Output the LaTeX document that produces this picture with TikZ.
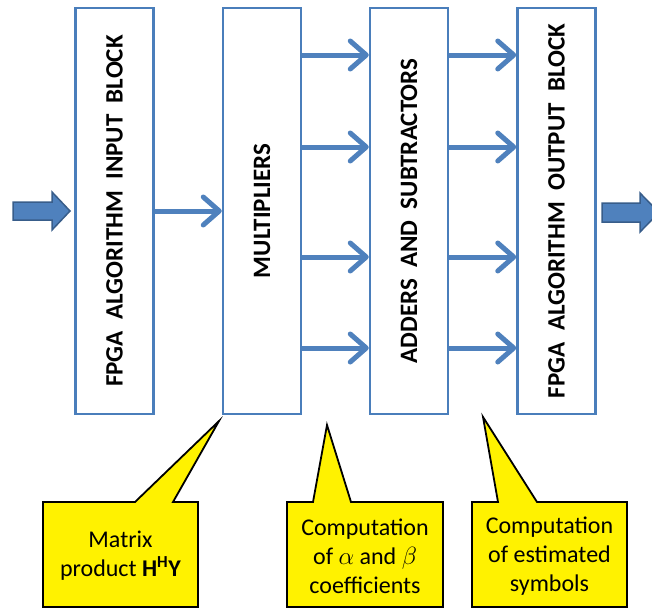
\documentclass[tikz,border=0pt]{standalone}
\usepackage{fontspec}
\setmainfont{Carlito}
\usetikzlibrary{arrows.meta}

\definecolor{boxblue}{HTML}{4A7EBB}
\definecolor{flowblue}{HTML}{4F81BD}
\definecolor{edgeblue}{HTML}{385D8A}

\tikzset{
	block/.style={draw=boxblue, line width=2.5pt, minimum width=78pt, minimum height=406pt, inner sep=0pt},
	blocktext/.style={rotate=90, font=\bfseries\fontsize{25}{28}\selectfont},
	flow/.style={draw=flowblue, line width=5pt, -{Straight Barb[length=16pt,width=28pt,round]}},
	bigarrow/.style={fill=flowblue, draw=edgeblue, line width=1.5pt, line join=miter},
	note/.style={fill=yellow, draw=black, line width=1.8pt, line join=miter},
	notetext/.style={align=center, font=\fontsize{24}{29}\selectfont}
}

\begin{document}
\begin{tikzpicture}[x=1pt, y=-1pt]
	\clip (0,0) rectangle (652,610);
	\useasboundingbox (0,0) rectangle (652,610);

	% processing blocks
	\node[block] (b1) at (114.5,211) {};
	\node[block] (b2) at (262,211) {};
	\node[block] (b3) at (409,211) {};
	\node[block] (b4) at (556.5,211) {};
	\node[blocktext] (t1) at (b1) {FPGA\ \ ALGORITHM\ \ INPUT\ \ BLOCK};
	\node[blocktext] (t2) at (b2) {MULTIPLIERS};
	\node[blocktext] (t3) at (b3) {ADDERS\ \ AND\ \ SUBTRACTORS};
	\node[blocktext] (t4) at (b4) {FPGA\ \ ALGORITHM\ \ OUTPUT\ \ BLOCK};

	% data flow
	\draw[flow] (b1) -- (b2);
	\foreach \y in {55,147,257,348} {
		\draw[flow] (b2.east |- 0,\y) -- (b3.west |- 0,\y);
		\draw[flow] (b3.east |- 0,\y) -- (b4.west |- 0,\y);
	}

	% input and output
	\draw[bigarrow] (13,202) -- (52,202) -- (52,192) -- (70,211) -- (52,230) -- (52,220) -- (13,220) -- cycle;
	\draw[bigarrow] (602,203) -- (640,203) -- (640,193) -- (659,212.5) -- (640,232) -- (640,222) -- (602,222) -- cycle;

	% callouts
	\coordinate (tip1) at (219,421);
	\coordinate (tip2) at (327,425);
	\coordinate (tip3) at (483,417);
	\path[note] (43,502) -- (135,502) -- (tip1) -- (173,502) -- (198,502) -- (198,607) -- (43,607) -- cycle;
	\path[note] (287,502) -- (313,502) -- (tip2) -- (351,502) -- (443,502) -- (443,607) -- (287,607) -- cycle;
	\path[note] (472,502) -- (498,502) -- (tip3) -- (537,502) -- (627,502) -- (627,607) -- (472,607) -- cycle;
	\node[notetext] (n1) at (120.5,556) {Matrix\\product \textbf{H\textsuperscript{H}Y}};
	\node[notetext] (n2) at (365,556) {Computation\\of $\alpha$ and $\beta$\\coefficients};
	\node[notetext] (n3) at (549.5,556) {Computation\\of estimated\\symbols};
\end{tikzpicture}
\end{document}
